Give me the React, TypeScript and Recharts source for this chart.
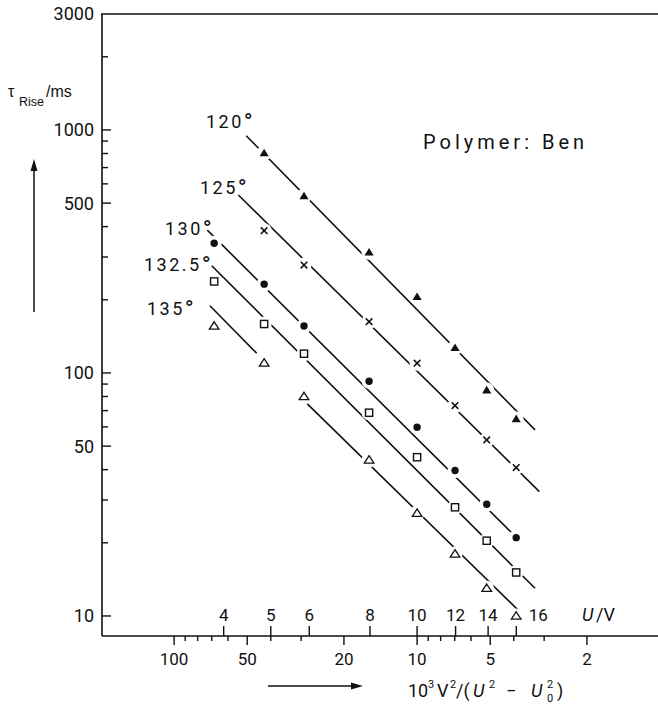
import React from 'react';
import { ComposedChart, Scatter, XAxis, YAxis } from 'recharts';

// abscissa of each voltage column: 10^3 V^2 / (U^2 - U0^2)
const columnX = [68.4, 42.6, 29.2, 15.76, 10, 6.98, 5.17, 3.91];

// rise times in ms, one entry per column (null = no point)
const rise120 = [null, 804, 535, 314, 206, 127, 85, 64.7];
const rise125 = [null, 385, 278, 162.6, 109.7, 73.4, 53, 40.8];
const rise130 = [342, 232, 156, 92.5, 59.8, 39.7, 28.8, 21];
const rise1325 = [238, 159, 120, 68.6, 45, 28, 20.4, 15.1];
const rise135 = [156, 110, 80, 43.9, 26.5, 18, 13, 10];

// fitted lines (x, tau); the 135° fit is drawn in two pieces
const fit120 = [{ x: 50.5, y: 947 }, { x: 3.27, y: 58.3 }];
const fit125 = [{ x: 54.4, y: 540 }, { x: 3.14, y: 32.5 }];
const fit130 = [{ x: 73, y: 387 }, { x: 4.08, y: 22 }];
const fit1325 = [{ x: 70, y: 276 }, { x: 3.27, y: 13 }];
const fit135a = [{ x: 71.2, y: 189 }, { x: 45.7, y: 120.5 }];
const fit135b = [{ x: 28.3, y: 74.6 }, { x: 3.7, y: 10.2 }];

// axis ticks
const yMajor = [3000, 1000, 500, 100, 50, 10];
const yMinor = [2000, 900, 800, 700, 600, 400, 300, 200, 90, 80, 70, 60, 40, 30, 20];
const xMajor = [100, 50, 20, 10, 5, 2];
const xMinor = [90, 80, 70, 60, 40, 30, 9, 8, 7, 6, 4, 3];
// U/V scale drawn on the same axis
const uLabels = ['4', '5', '6', '8', '10', '12', '14', '16'];
const uAt = [62.5, 40, 27.78, 15.625, 10, 6.944, 5.102, 3.906];

const INK = '#111';
const NUM_FONT = 'Roboto, "DejaVu Sans", sans-serif';

const toPoints = (vals: (number | null)[]) =>
  vals
    .map((v, i) => (v == null ? null : { x: columnX[i], y: v }))
    .filter((p) => p !== null);

const xTicks = Array.from(new Set([...xMajor, ...xMinor, ...uAt]));
const yTicks = [...yMajor, ...yMinor];

const YTick = (props: any) => {
  const { x, y, payload } = props;
  const v = payload.value;
  const major = yMajor.includes(v);
  return (
    <g>
      {v !== 3000 && (
        <line x1={x} x2={x + (major ? 9 : 6)} y1={y} y2={y} stroke={INK} strokeWidth={1.4} />
      )}
      {major && (
        <text x={x - 8} y={y} dy="0.36em" textAnchor="end" fontSize={18} fontFamily={NUM_FONT} fill={INK}>
          {v}
        </text>
      )}
    </g>
  );
};

const XTick = (props: any) => {
  const { x, y, payload } = props;
  const v = payload.value;
  const major = xMajor.includes(v);
  const minor = xMinor.includes(v);
  const u = uAt.indexOf(v);
  // the last U label sits right of its tick, clear of the marker
  const shift = u === uAt.length - 1 ? 22 : 0;
  return (
    <g>
      {(major || minor) && (
        <line x1={x} x2={x} y1={y} y2={y + (major ? 9 : 5)} stroke={INK} strokeWidth={1.4} />
      )}
      {major && (
        <text x={x} y={y + 29} textAnchor="middle" fontSize={17} fontFamily={NUM_FONT} fill={INK}>
          {v}
        </text>
      )}
      {u >= 0 && (
        <g>
          <line x1={x} x2={x} y1={y} y2={y - 10} stroke={INK} strokeWidth={1.4} />
          <text x={x + shift} y={y - 15} textAnchor="middle" fontSize={17} fontFamily={NUM_FONT} fill={INK}>
            {uLabels[u]}
          </text>
        </g>
      )}
    </g>
  );
};

// white disc under every marker so the fit lines stop short of it
const Halo = ({ cx, cy }: any) => <circle cx={cx} cy={cy} r={7.5} fill="#fff" />;

const FilledTriangle = (p: any) => (
  <g>
    <Halo cx={p.cx} cy={p.cy} />
    <path d={`M${p.cx},${p.cy - 4.3}L${p.cx + 4.6},${p.cy + 3.3}L${p.cx - 4.6},${p.cy + 3.3}Z`} fill={INK} />
  </g>
);

const Cross = (p: any) => (
  <g>
    <Halo cx={p.cx} cy={p.cy} />
    <path
      d={`M${p.cx - 3.3},${p.cy - 3.3}L${p.cx + 3.3},${p.cy + 3.3}M${p.cx + 3.3},${p.cy - 3.3}L${p.cx - 3.3},${p.cy + 3.3}`}
      stroke={INK}
      strokeWidth={1.6}
    />
  </g>
);

const Dot = (p: any) => (
  <g>
    <Halo cx={p.cx} cy={p.cy} />
    <circle cx={p.cx} cy={p.cy} r={3.7} fill={INK} />
  </g>
);

const Square = (p: any) => (
  <g>
    <Halo cx={p.cx} cy={p.cy} />
    <rect x={p.cx - 3.6} y={p.cy - 3.6} width={7.2} height={7.2} fill="#fff" stroke={INK} strokeWidth={1.4} />
  </g>
);

const OpenTriangle = (p: any) => (
  <g>
    <Halo cx={p.cx} cy={p.cy} />
    <path
      d={`M${p.cx},${p.cy - 4.2}L${p.cx + 4.8},${p.cy + 3.2}L${p.cx - 4.8},${p.cy + 3.2}Z`}
      fill="#fff"
      stroke={INK}
      strokeWidth={1.3}
    />
  </g>
);

const NoMarker = () => <g />;

const fits = [fit120, fit125, fit130, fit1325, fit135a, fit135b];
const series = [
  { key: 's120', data: toPoints(rise120), shape: FilledTriangle },
  { key: 's125', data: toPoints(rise125), shape: Cross },
  { key: 's130', data: toPoints(rise130), shape: Dot },
  { key: 's1325', data: toPoints(rise1325), shape: Square },
  { key: 's135', data: toPoints(rise135), shape: OpenTriangle },
];

const tempLabels = [
  { text: '120', x: 206, y: 128 },
  { text: '125', x: 200, y: 194 },
  { text: '130', x: 165, y: 235 },
  { text: '132.5', x: 144, y: 271 },
  { text: '135', x: 147, y: 315 },
];

export default function App() {
  return (
    <div style={{ position: 'absolute', left: 0, top: 0, width: 658, height: 712, background: '#fff' }}>
      <ComposedChart width={658} height={712} margin={{ top: 14, right: 0, bottom: 0, left: 8 }}>
        <XAxis
          dataKey="x"
          type="number"
          scale="log"
          domain={[1.02, 198]}
          reversed
          allowDataOverflow
          ticks={xTicks}
          interval={0}
          tick={<XTick />}
          tickLine={false}
          tickSize={0}
          tickMargin={0}
          height={76}
          axisLine={{ stroke: INK, strokeWidth: 1.6 }}
        />
        <YAxis
          type="number"
          scale="log"
          domain={[8.27, 3000]}
          allowDataOverflow
          ticks={yTicks}
          interval={0}
          tick={<YTick />}
          tickLine={false}
          tickSize={0}
          tickMargin={0}
          width={94}
          axisLine={{ stroke: INK, strokeWidth: 1.6 }}
        />
        {/* fit lines first, so the marker halos can cut them */}
        {fits.map((f, i) => (
          <Scatter
            key={`fit${i}`}
            data={f}
            dataKey="y"
            line={{ stroke: INK, strokeWidth: 1.6 }}
            shape={NoMarker}
            isAnimationActive={false}
          />
        ))}
        {series.map((s) => {
          const Shape = s.shape;
          return (
            <Scatter
              key={s.key}
              data={s.data}
              dataKey="y"
              shape={(p: any) => <Shape cx={p.cx} cy={p.cy} />}
              isAnimationActive={false}
            />
          );
        })}
      </ComposedChart>

      <svg
        width={658}
        height={712}
        style={{ position: 'absolute', left: 0, top: 0, pointerEvents: 'none' }}
      >
        {/* upper frame line */}
        <line x1={101} x2={658} y1={14} y2={14} stroke={INK} strokeWidth={1.6} />

        {/* y title with arrow */}
        <text y={97} fontSize={16} fontFamily='"Liberation Sans", Arial, sans-serif' fill={INK}>
          <tspan x={8}>τ</tspan>
          <tspan x={19} y={106} fontSize={12.5}>Rise</tspan>
          <tspan x={46} y={97}>/ms</tspan>
        </text>
        <line x1={34} x2={34} y1={312} y2={168} stroke={INK} strokeWidth={1.5} />
        <path d="M34,159L30.5,171L37.5,171Z" fill={INK} />

        {/* x title with arrow */}
        <line x1={268} x2={354} y1={686} y2={686} stroke={INK} strokeWidth={1.5} />
        <path d="M363,686L351,682.5L351,689.5Z" fill={INK} />
        <g fontFamily={NUM_FONT} fill={INK} fontSize={18}>
          <text x={408} y={697}>10</text>
          <text x={428} y={688} fontSize={11}>3</text>
          <text x={437} y={697}>V</text>
          <text x={450} y={688} fontSize={11}>2</text>
          <text x={456} y={697}>/(</text>
          <text x={473} y={697} fontStyle="italic">U</text>
          <text x={489} y={688} fontSize={11}>2</text>
          <text x={506} y={697}>−</text>
          <text x={531} y={697} fontStyle="italic">U</text>
          <text x={547} y={688} fontSize={11}>2</text>
          <text x={547} y={702} fontSize={11}>0</text>
          <text x={557} y={697}>)</text>
        </g>

        {/* title of the U scale */}
        <g fontFamily={NUM_FONT} fill={INK} fontSize={18}>
          <text x={582} y={621} fontStyle="italic">U</text>
          <text x={596} y={621}>/V</text>
        </g>

        <text x={423} y={149} fontSize={20} letterSpacing={4} fontFamily={NUM_FONT} fill={INK}>
          Polymer: Ben
        </text>

        {/* temperature of each fit, with a large open degree ring */}
        {tempLabels.map((t) => (
          <text key={t.text} x={t.x} y={t.y} fontSize={18} letterSpacing={2.5} fontFamily={NUM_FONT} fill={INK}>
            {t.text}
            <tspan fontSize={24} dy={2}>°</tspan>
          </text>
        ))}
      </svg>
    </div>
  );
}
